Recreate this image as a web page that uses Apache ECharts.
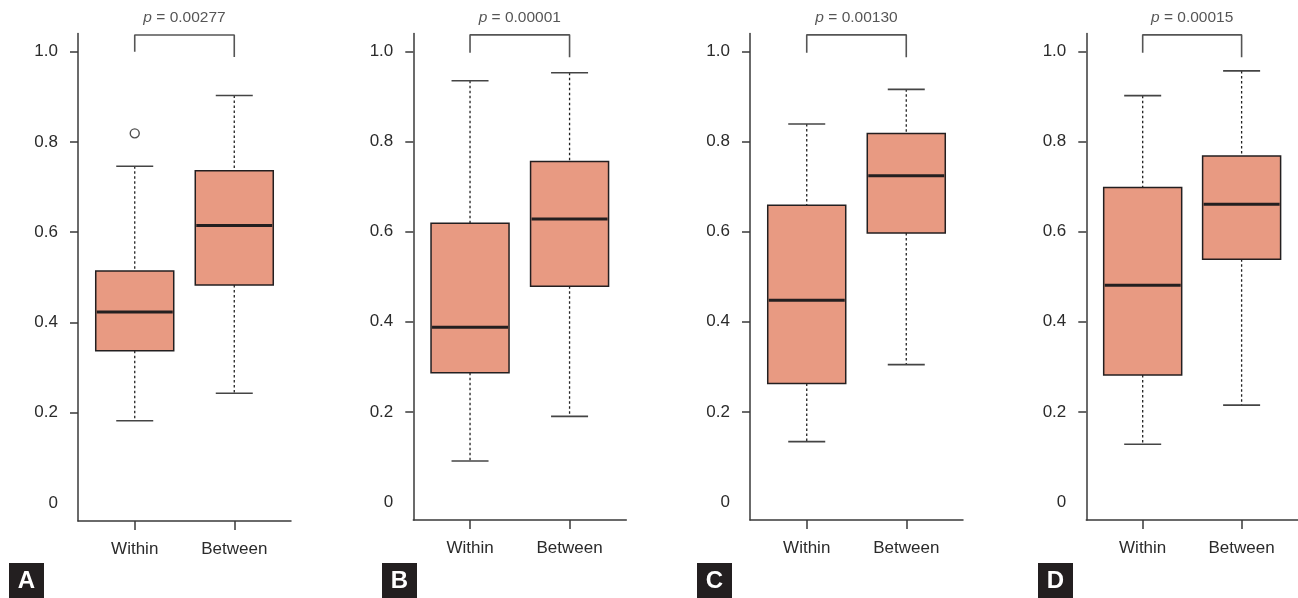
<!DOCTYPE html>
<html><head><meta charset="utf-8">
<script src="https://cdn.jsdelivr.net/npm/echarts@6/dist/echarts.min.js"></script>
<style>html,body{margin:0;padding:0;background:#fff}#c{width:1298px;height:598px}</style>
</head><body><div id="c"></div>
<script>
// ---- data ----
const categories = ['Within', 'Between'];
const panelLetters = ['A', 'B', 'C', 'D'];
const pValues = ['0.00277', '0.00001', '0.00130', '0.00015'];
const yTickLabels = [0, 0.2, 0.4, 0.6, 0.8, 1.0];
const yTickMarks = [0.2, 0.4, 0.6, 0.8, 1.0];
// each box: [min, Q1, median, Q3, max]
const boxesA = [[0.182, 0.337, 0.423, 0.514, 0.746], [0.243, 0.483, 0.615, 0.736, 0.903]];
const boxesB = [[0.091, 0.287, 0.388, 0.619, 0.935], [0.190, 0.479, 0.628, 0.756, 0.953]];
const boxesC = [[0.134, 0.263, 0.448, 0.659, 0.839], [0.305, 0.597, 0.724, 0.818, 0.916]];
const boxesD = [[0.128, 0.282, 0.481, 0.698, 0.902], [0.215, 0.539, 0.661, 0.768, 0.957]];
// outliers: [categoryIndex(1-based), value]
const outliersA = [[1, 0.819]];
const outliersB = [];
const outliersC = [];
const outliersD = [];
// bracket: [left leg bottom, top, right leg bottom]
const bracketA = [1.0, 1.037, 0.988];
const bracketB = [0.997, 1.037, 0.987];
const bracketC = [0.997, 1.037, 0.987];
const bracketD = [0.997, 1.037, 0.987];

const panels = [
  { boxes: boxesA, out: outliersA, br: bracketA },
  { boxes: boxesB, out: outliersB, br: bracketB },
  { boxes: boxesC, out: outliersC, br: bracketC },
  { boxes: boxesD, out: outliersD, br: bracketD }
];

// ---- layout/styles ----
const gridLefts = [78, 413.3, 750, 1086.3];
const gridTops = [33.6, 33.5, 33.5, 33.5];
const gridHeights = [487.4, 486.5, 486.5, 486.5];
const letterPos = [[9, 563], [382, 563], [697, 563], [1038, 563]];
const FONT = '"Liberation Sans", Arial, sans-serif';
const TXT = '#2b2b2b';
const AX = '#3a3a3a';
const FILL = '#E89A82';
const EDGE = '#231F20';

function renderBox(params, api) {
  const x = api.value(0);
  const lo = api.coord([x, api.value(1)]);
  const q1 = api.coord([x, api.value(2)]);
  const med = api.coord([x, api.value(3)]);
  const q3 = api.coord([x, api.value(4)]);
  const hi = api.coord([x, api.value(5)]);
  const bw = 78, cw = 37, cx = lo[0];
  const dash = { stroke: '#222', lineWidth: 1.3, lineDash: [2.5, 2.5] };
  const cap = { stroke: '#444', lineWidth: 1.6 };
  return {
    type: 'group', children: [
      { type: 'line', shape: { x1: cx, y1: hi[1], x2: cx, y2: q3[1] }, style: dash },
      { type: 'line', shape: { x1: cx, y1: q1[1], x2: cx, y2: lo[1] }, style: dash },
      { type: 'line', shape: { x1: cx - cw / 2, y1: hi[1], x2: cx + cw / 2, y2: hi[1] }, style: cap },
      { type: 'line', shape: { x1: cx - cw / 2, y1: lo[1], x2: cx + cw / 2, y2: lo[1] }, style: cap },
      { type: 'rect', shape: { x: cx - bw / 2, y: q3[1], width: bw, height: q1[1] - q3[1] },
        style: { fill: FILL, stroke: EDGE, lineWidth: 1.5 } },
      { type: 'line', shape: { x1: cx - bw / 2 + 1, y1: med[1], x2: cx + bw / 2 - 1, y2: med[1] },
        style: { stroke: EDGE, lineWidth: 3 } }
    ]
  };
}

const grid = [], xAxis = [], yAxis = [], series = [], graphic = [];
panels.forEach((p, i) => {
  grid.push({ left: gridLefts[i], top: gridTops[i], width: 213, height: gridHeights[i], containLabel: false });
  xAxis.push({
    type: 'value', gridIndex: i, min: 0.43, max: 2.57,
    splitLine: { show: false },
    axisLine: { onZero: false, lineStyle: { color: AX, width: 1.5 } },
    axisTick: { customValues: [1, 2], length: 9, lineStyle: { color: AX, width: 1.5 } },
    axisLabel: { customValues: [1, 2], margin: 20, color: TXT, fontFamily: FONT, fontSize: 17,
      formatter: v => categories[Math.round(v) - 1] || '' }
  });
  yAxis.push({
    type: 'value', gridIndex: i, min: -0.04, max: 1.04,
    splitLine: { show: false },
    axisLine: { show: true, onZero: false, lineStyle: { color: AX, width: 1.5 } },
    axisTick: { show: true, customValues: yTickMarks, length: 8, lineStyle: { color: AX, width: 1.5 } },
    axisLabel: { customValues: yTickLabels, margin: 20, color: TXT, fontFamily: FONT, fontSize: 17,
      formatter: v => (Math.abs(v) < 1e-9 ? '0' : v.toFixed(1)) }
  });
  series.push({
    type: 'custom', xAxisIndex: i, yAxisIndex: i, silent: true, clip: false,
    renderItem: renderBox,
    encode: { x: 0, y: [1, 2, 3, 4, 5] },
    data: p.boxes.map((b, k) => [k + 1].concat(b))
  });
  if (p.out.length) {
    series.push({
      type: 'scatter', xAxisIndex: i, yAxisIndex: i, silent: true,
      symbol: 'circle', symbolSize: 9,
      itemStyle: { color: '#fff', borderColor: '#222', borderWidth: 1.4 },
      data: p.out
    });
  }
  series.push({
    type: 'line', xAxisIndex: i, yAxisIndex: i, silent: true, clip: false,
    symbol: 'none', lineStyle: { color: '#555', width: 1.6 },
    data: [[1, p.br[0]], [1, p.br[1]], [2, p.br[1]], [2, p.br[2]]]
  });
  series.push({
    type: 'scatter', xAxisIndex: i, yAxisIndex: i, silent: true, clip: false,
    symbolSize: 1, itemStyle: { color: 'transparent' },
    label: {
      show: true, position: 'top', distance: 9,
      formatter: '{i|p} = ' + pValues[i],
      color: TXT, fontFamily: FONT, fontSize: 15.5,
      rich: { i: { fontStyle: 'italic', color: TXT, fontFamily: FONT, fontSize: 15.5 } }
    },
    data: [[1.5, p.br[1]]]
  });
  graphic.push({
    type: 'group', left: letterPos[i][0], top: letterPos[i][1],
    children: [
      { type: 'rect', shape: { x: 0, y: 0, width: 35, height: 35 }, style: { fill: EDGE } },
      { type: 'text', x: 17.5, y: 18.5, style: { text: panelLetters[i], fill: '#fff', font: 'bold 24px ' + FONT,
        align: 'center', verticalAlign: 'middle' } }
    ]
  });
});

const chart = echarts.init(document.getElementById('c'), null, { renderer: 'canvas' });
chart.setOption({ animation: false, backgroundColor: '#fff', grid, xAxis, yAxis, series, graphic });
</script>
</body></html>
